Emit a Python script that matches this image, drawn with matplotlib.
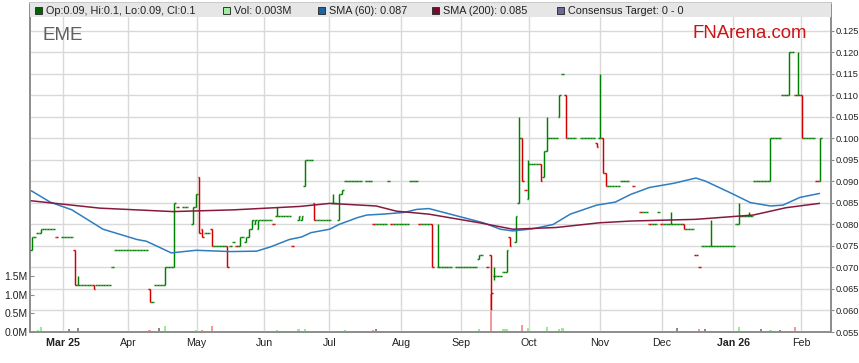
import numpy as np
import matplotlib.pyplot as plt
from matplotlib.collections import LineCollection
from matplotlib.patches import Rectangle

plt.rcParams['font.family'] = ['Liberation Sans', 'DejaVu Sans']

# EME daily prices, x = trading day number (0 = first bar, early Mar 2025)
day = [0, 1, 2, 3, 4, 5, 6, 7, 8, 10, 11, 12, 13, 14, 15, 16, 17, 18, 19, 20,
       21, 22, 23, 24, 25, 26, 27, 28, 29, 30, 31, 32, 33, 34, 35, 36, 37, 38, 39, 40,
       41, 42, 43, 44, 45, 46, 47, 49, 50, 52, 53, 54, 55, 56, 57, 58, 59, 60, 61, 62,
       63, 64, 65, 66, 67, 68, 69, 70, 71, 72, 73, 74, 75, 76, 77, 78, 79, 80, 81, 82,
       83, 84, 86, 87, 88, 89, 90, 91, 92, 93, 94, 95, 96, 97, 98, 99, 100, 101, 102, 103,
       104, 105, 106, 108, 109, 110, 111, 112, 113, 114, 115, 116, 117, 118, 119, 120, 121, 122, 123, 124,
       125, 126, 127, 128, 129, 131, 132, 133, 134, 135, 137, 138, 139, 140, 141, 142, 143, 144, 145, 147,
       148, 149, 150, 151, 152, 153, 154, 156, 157, 158, 159, 160, 161, 162, 163, 164, 165, 166, 167, 168,
       169, 170, 171, 172, 173, 174, 175, 177, 178, 179, 180, 181, 182, 183, 184, 185, 186, 187, 188, 189,
       190, 191, 192, 194, 196, 197, 198, 199, 200, 201, 202, 203, 204, 205, 206, 207, 208, 209, 210, 211,
       212, 213, 214, 215, 216, 217, 218, 219, 220, 221, 222, 223, 224, 225, 226, 227, 228, 229, 230, 231,
       232, 233, 234, 235, 236, 237, 238, 239, 240, 241, 242, 243, 244, 245, 246, 247, 248, 249, 250, 251,
       252, 253, 254]
close = [0.077, 0.077, 0.078, 0.079, 0.079, 0.079, 0.079, 0.079, 0.077, 0.077, 0.077, 0.077, 0.077, 0.066, 0.066, 0.066, 0.066, 0.066, 0.066, 0.065,
         0.066, 0.066, 0.066, 0.066, 0.066, 0.070, 0.074, 0.074, 0.074, 0.074, 0.074, 0.074, 0.074, 0.074, 0.074, 0.074, 0.074, 0.062, 0.062, 0.066,
         0.066, 0.066, 0.070, 0.070, 0.070, 0.085, 0.084, 0.084, 0.084, 0.084, 0.087, 0.078, 0.077, 0.078, 0.078, 0.075, 0.075, 0.075, 0.075, 0.075,
         0.070, 0.075, 0.076, 0.075, 0.077, 0.077, 0.077, 0.079, 0.081, 0.081, 0.081, 0.081, 0.081, 0.081, 0.081, 0.080, 0.082, 0.082, 0.082, 0.082,
         0.082, 0.075, 0.082, 0.082, 0.095, 0.095, 0.095, 0.081, 0.081, 0.081, 0.081, 0.081, 0.081, 0.085, 0.085, 0.087, 0.088, 0.090, 0.090, 0.090,
         0.090, 0.090, 0.090, 0.090, 0.090, 0.080, 0.080, 0.080, 0.080, 0.080, 0.090, 0.080, 0.080, 0.080, 0.080, 0.080, 0.080, 0.090, 0.090, 0.090,
         0.080, 0.080, 0.080, 0.080, 0.070, 0.070, 0.070, 0.070, 0.070, 0.070, 0.070, 0.070, 0.070, 0.070, 0.070, 0.070, 0.070, 0.073, 0.073, 0.070,
         0.064, 0.068, 0.068, 0.068, 0.069, 0.074, 0.075, 0.082, 0.100, 0.090, 0.088, 0.094, 0.094, 0.094, 0.094, 0.090, 0.097, 0.100, 0.100, 0.100,
         0.100, 0.110, 0.115, 0.100, 0.100, 0.100, 0.100, 0.100, 0.100, 0.100, 0.100, 0.100, 0.098, 0.100, 0.092, 0.089, 0.089, 0.089, 0.089, 0.089,
         0.090, 0.090, 0.090, 0.089, 0.083, 0.083, 0.083, 0.080, 0.080, 0.080, 0.083, 0.080, 0.080, 0.080, 0.080, 0.080, 0.080, 0.080, 0.079, 0.079,
         0.079, 0.079, 0.073, 0.070, 0.075, 0.075, 0.075, 0.075, 0.075, 0.075, 0.075, 0.075, 0.075, 0.075, 0.075, 0.080, 0.082, 0.082, 0.082, 0.082,
         0.082, 0.090, 0.090, 0.090, 0.090, 0.090, 0.100, 0.100, 0.100, 0.100, 0.110, 0.110, 0.120, 0.120, 0.110, 0.110, 0.100, 0.100, 0.100, 0.100,
         0.100, 0.090, 0.100]

# days that traded over a range (open / high / low); all other days are flat at the close
move_day = [0, 3, 14, 15, 20, 38, 43, 46, 52, 53, 54, 55, 58, 63, 67, 69, 70, 71, 72, 73,
            79, 86, 87, 88, 91, 97, 99, 100, 129, 131, 144, 148, 149, 153, 154, 156, 157, 158, 160, 164,
            165, 166, 170, 172, 182, 183, 184, 185, 206, 210, 219, 228, 231, 238, 244, 247, 248, 254]
move_open = [0.074, 0.078, 0.074, 0.066, 0.066, 0.065, 0.066, 0.070, 0.080, 0.084, 0.091, 0.079, 0.079, 0.075, 0.075, 0.076, 0.077, 0.079, 0.080, 0.079,
             0.082, 0.081, 0.081, 0.089, 0.085, 0.085, 0.081, 0.087, 0.080, 0.070, 0.072, 0.073, 0.068, 0.069, 0.077, 0.076, 0.085, 0.100, 0.086, 0.094,
             0.091, 0.097, 0.105, 0.110, 0.099, 0.100, 0.100, 0.092, 0.080, 0.080, 0.075, 0.080, 0.082, 0.090, 0.110, 0.110, 0.110, 0.090]
move_high = [0.077, 0.079, 0.074, 0.068, 0.066, 0.065, 0.070, 0.085, 0.084, 0.087, 0.091, 0.079, 0.079, 0.075, 0.077, 0.077, 0.079, 0.081, 0.081, 0.081,
             0.084, 0.082, 0.082, 0.095, 0.085, 0.087, 0.087, 0.088, 0.080, 0.080, 0.073, 0.073, 0.070, 0.074, 0.077, 0.082, 0.105, 0.100, 0.095, 0.094,
             0.097, 0.105, 0.110, 0.110, 0.099, 0.115, 0.100, 0.092, 0.083, 0.080, 0.081, 0.085, 0.083, 0.100, 0.120, 0.120, 0.110, 0.100]
move_low = [0.074, 0.078, 0.066, 0.066, 0.065, 0.062, 0.066, 0.070, 0.080, 0.084, 0.078, 0.077, 0.075, 0.070, 0.075, 0.076, 0.077, 0.079, 0.080, 0.079,
            0.082, 0.081, 0.081, 0.089, 0.081, 0.085, 0.081, 0.087, 0.070, 0.070, 0.072, 0.060, 0.067, 0.069, 0.075, 0.076, 0.085, 0.090, 0.086, 0.090,
            0.091, 0.097, 0.105, 0.100, 0.098, 0.100, 0.092, 0.089, 0.080, 0.079, 0.075, 0.080, 0.082, 0.090, 0.110, 0.110, 0.100, 0.090]

# volume (millions of shares)
vol_day = [2, 3, 8, 12, 15, 27, 38, 41, 43, 46, 50, 52, 53, 54, 55, 58, 64, 69, 73, 79,
           86, 88, 97, 99, 100, 101, 105, 106, 110, 111, 113, 115, 119, 129, 131, 144, 147, 148, 149, 152,
           153, 154, 156, 158, 160, 164, 166, 169, 170, 171, 172, 183, 184, 185, 194, 208, 210, 215, 217, 219,
           227, 228, 230, 233, 235, 237, 238, 239, 241, 244, 246, 248, 254]
vol = [0.06, 0.13, 0.02, 0.07, 0.10, 0.02, 0.05, 0.10, 0.15, 0.02, 0.02, 0.02, 0.06, 0.02, 0.06, 0.15, 0.02, 0.04, 0.02, 0.05,
       0.07, 0.07, 0.02, 0.02, 0.03, 0.05, 0.03, 0.03, 0.05, 0.08, 0.03, 0.03, 0.03, 0.03, 0.02, 0.07, 0.03, 1.03, 0.03, 0.08,
       0.08, 0.04, 0.02, 0.20, 0.12, 0.02, 0.14, 0.03, 0.07, 0.11, 0.03, 0.04, 0.04, 0.02, 0.02, 0.10, 0.02, 0.07, 0.07, 0.02,
       0.02, 0.13, 0.03, 0.02, 0.07, 0.03, 0.06, 0.03, 0.05, 0.02, 0.14, 0.02, 0.003]

# moving averages
sma60_day = [0, 6, 13, 23, 34, 37, 45, 53, 64, 72.5, 77, 83, 87, 90, 96, 99, 105, 108, 113, 120,
             124, 128, 137, 145.5, 151, 155, 161.5, 168, 173.5, 182, 188, 193, 199, 207, 214, 217, 225, 231.5, 238, 242,
             247.5, 253.7]
sma60 = [0.0878, 0.0852, 0.0834, 0.0789, 0.0765, 0.0761, 0.0734, 0.0740, 0.0737, 0.0738, 0.0748, 0.0765, 0.0771, 0.0781, 0.0789, 0.0800, 0.0816, 0.0822, 0.0824, 0.0828,
         0.0835, 0.0837, 0.0820, 0.0804, 0.0789, 0.0785, 0.0790, 0.0800, 0.0824, 0.0845, 0.0852, 0.0870, 0.0886, 0.0896, 0.0908, 0.0901, 0.0874, 0.0851, 0.0843, 0.0845,
         0.0863, 0.0872]
sma200_day = [0, 22, 45.5, 65, 86.5, 96, 111, 117.5, 128, 145, 155, 169, 183, 193, 214, 232.5, 243, 253.7]
sma200 = [0.0855, 0.0838, 0.0830, 0.0834, 0.0842, 0.0849, 0.0843, 0.0831, 0.0824, 0.0803, 0.0789, 0.0793, 0.0804, 0.0808, 0.0812, 0.0822, 0.0839, 0.0849]

month_pos = [10.2, 31.2, 53.2, 75.0, 95.9, 119.1, 138.2, 160.1, 183.1, 203.0, 226.0, 247.9]
month_lbl = ['Mar 25', 'Apr', 'May', 'Jun', 'Jul', 'Aug', 'Sep', 'Oct', 'Nov', 'Dec', 'Jan 26', 'Feb']
price_ticks = [0.055, 0.060, 0.065, 0.070, 0.075, 0.080, 0.085, 0.090, 0.095, 0.100, 0.105, 0.110, 0.115, 0.120, 0.125]
vol_ticks = [0.0, 0.5, 1.0, 1.5]

GREEN = '#008000'
RED = '#d00000'
GRID = '#d9d9d9'
SPINE = '#8c8c8c'

# build the ohlc arrays
day = np.array(day, dtype=float)
close = np.array(close)
opn, high, low = close.copy(), close.copy(), close.copy()
idx = np.searchsorted(day, move_day)
opn[idx] = move_open
high[idx] = move_high
low[idx] = move_low
prev = np.r_[close[0], close[:-1]]
down = (close < opn) | ((close == opn) & (close < prev))

W, H = 859, 363
fig = plt.figure(figsize=(W / 100, H / 100), dpi=100)
rect = [30 / W, 31 / H, 801 / W, 329 / H]
ax = fig.add_axes(rect)
ax_v = ax.twinx()
ax.set_zorder(ax_v.get_zorder() + 1)
ax.patch.set_visible(False)

# volume
vi = np.searchsorted(day, vol_day)
vcol = np.where(close[vi] > prev[vi], '#98ec98', np.where(close[vi] < prev[vi], '#f59a9a', '#8a8a8a'))
ax_v.bar(vol_day, vol, width=0.7, color=vcol, linewidth=0)
ax_v.set_ylim(0, 329 / 37.3)
ax_v.yaxis.tick_left()
ax_v.set_yticks(vol_ticks)
ax_v.set_yticklabels([f'{v:.1f}M' for v in vol_ticks])
ax_v.tick_params(axis='y', direction='in', length=3, pad=1.5, labelsize=7.5,
                 colors='#222222')
ax_v.tick_params(axis='y', color=SPINE)

# ohlc bars
segs, cols = [], []
for d, o, hi, lo, c, dn in zip(day, opn, high, low, close, down):
    col = RED if dn else GREEN
    if hi > lo:
        segs.append([(d, lo), (d, hi)])
        cols.append(col)
    segs.append([(d - 0.5, o), (d, o)])
    segs.append([(d, c), (d + 0.5, c)])
    cols += [col, col]
ax.add_collection(LineCollection(segs, colors=cols, linewidths=1.05, zorder=3))

ax.plot(sma60_day, sma60, color='#2e7dbf', lw=1.1, zorder=4)
ax.plot(sma200_day, sma200, color='#861a3e', lw=1.1, zorder=4)

ax.set_xlim(-0.5, 257.5)
ax.set_ylim(0.055, 0.1315)
ax.set_yticks(price_ticks)
ax.set_yticklabels([f'{p:.3f}' for p in price_ticks])
ax.yaxis.tick_right()
ax.tick_params(axis='y', length=2.5, pad=0.6, labelsize=6.7, color=SPINE, labelcolor='#222222')
ax.set_xticks(month_pos)
ax.set_xticklabels(month_lbl)
ax.tick_params(axis='x', length=0, pad=4, labelsize=7.7, labelcolor='#222222')
for t in ax.get_xticklabels():
    if ' ' in t.get_text():
        t.set_fontweight('bold')
ax.grid(True, color=GRID, lw=1.0)
ax.set_axisbelow(True)

for a in (ax, ax_v):
    for s in a.spines.values():
        s.set_color(SPINE)
        s.set_linewidth(1.2)
    a.spines['top'].set_color('#c8c8c8')

# legend strip
ax.add_patch(Rectangle((0, 1 - 14 / 329), 1, 14 / 329, transform=ax.transAxes,
                       facecolor='#e6e6e6', edgecolor='none', zorder=6, clip_on=False))
legend = [(35, '#006400', 'Op:0.09, Hi:0.1, Lo:0.09, Cl:0.1'),
          (223, '#9cf09c', 'Vol: 0.003M'),
          (318, '#1c64a4', 'SMA (60): 0.087'),
          (432, '#7a0a2c', 'SMA (200): 0.085'),
          (557, '#6a6a96', 'Consensus Target: 0 - 0')]
for x, fc, txt in legend:
    fig.add_artist(Rectangle((x / W, 1 - 14 / H), 7 / W, 7 / H, transform=fig.transFigure,
                             facecolor=fc, edgecolor='#333333', lw=0.7, zorder=7))
    fig.text((x + 11) / W, 1 - 10.5 / H, txt, fontsize=7.8, color='#222222',
             va='center', ha='left', zorder=7)

fig.text(42 / W, 1 - 40 / H, 'EME', fontsize=13.5, color='#606060', va='baseline')
fig.text(693 / W, 1 - 38.5 / H, 'FNArena.com', fontsize=13.4, color='#cc1414', va='baseline')

fig.savefig('out.png', dpi=100)
